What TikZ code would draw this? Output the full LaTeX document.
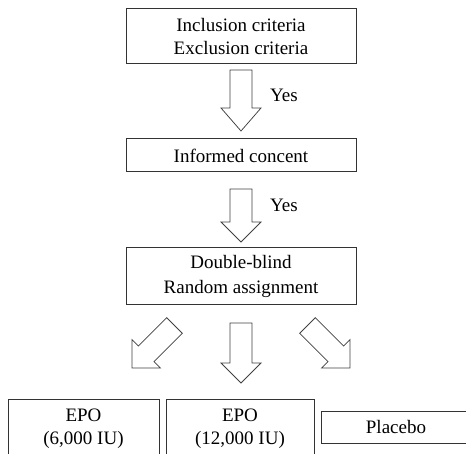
\documentclass[tikz,border=0pt]{standalone}
\usepackage{fontspec}
\setmainfont{Liberation Serif}
\begin{document}
\begin{tikzpicture}[x=1pt,y=-1pt,
  box/.style={draw=black!80, line width=1pt, inner sep=0pt, align=center,
    font=\fontsize{19}{23}\selectfont, text=black},
  lab/.style={font=\fontsize{19}{23}\selectfont, text=black, inner sep=0pt},
  arr/.style={draw=black!75, line width=0.75pt, fill=white, line join=miter},
  pics/barrow/.style n args={2}{code={
    \draw[arr] (-11,0) -- (-11,#1) -- (-20,#1) -- (0,#1+#2) -- (20,#1) -- (11,#1) -- (11,0) -- cycle;}}]
\useasboundingbox (0,0) rectangle (466,454);
\clip (0,0) rectangle (466,454);
% main boxes
\node[box, minimum width=230, minimum height=55] (incl) at (241,36.5) {Inclusion criteria\\Exclusion criteria};
\node[box, minimum width=230, minimum height=33] (cons) at (241,155.5) {Informed concent};
\node[box, minimum width=230, minimum height=57, font=\fontsize{19}{24.5}\selectfont] (rand) at (241,276.5) {Double-blind\\Random assignment};
% bottom boxes
\node[box, minimum width=151, minimum height=60] (epoA) at (83.5,429) {EPO\\(6,000 IU)};
\node[box, minimum width=148, minimum height=60] (epoB) at (240,429) {EPO\\(12,000 IU)};
\node[box, minimum width=150, minimum height=32] (plac) at (396,427) {Placebo};
% block arrows
\pic at (241,70) {barrow={38}{23}};
\pic at (241,189) {barrow={33}{20}};
\pic at (241,323) {barrow={40}{20}};
\pic[rotate=-45] at (174.5,325.5) {barrow={40}{20}};
\pic[rotate=45] at (307.5,325.5) {barrow={40}{20}};
% labels
\node[lab] (yes1) at (284,95) {Yes};
\node[lab] (yes2) at (284,205) {Yes};
\end{tikzpicture}
\end{document}
